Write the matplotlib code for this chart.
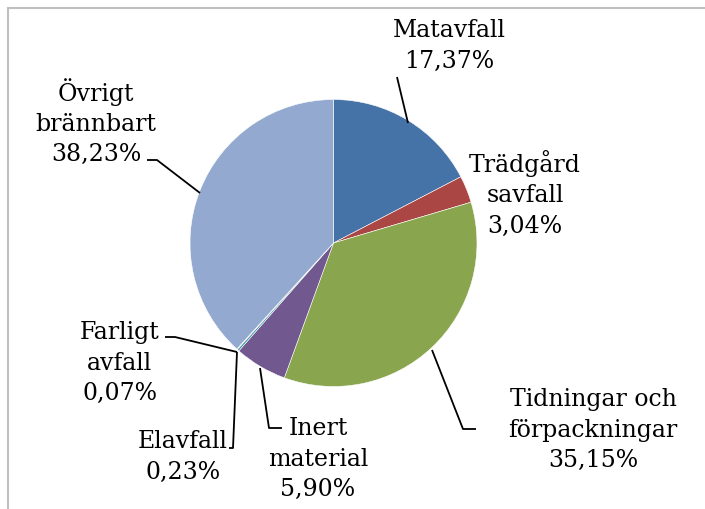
import matplotlib.pyplot as plt
from matplotlib.lines import Line2D

plt.rcParams["font.family"] = ["DejaVu Serif"]

categories = ["Matavfall", "Trädgård\nsavfall", "Tidningar och\nförpackningar",
              "Inert\nmaterial", "Elavfall", "Farligt\navfall", "Övrigt\nbrännbart"]
shares = [17.37, 3.04, 35.15, 5.90, 0.23, 0.07, 38.23]
colors = ["#4572A7", "#AA4643", "#89A54E", "#71588F", "#4198AF", "#DB843D", "#93A9CF"]

W, H = 705, 509
# label block centres (pixels, y from top)
label_pos = [(449, 46), (525, 194), (593, 430), (318, 459), (183, 457), (120, 363), (96, 122)]
# leader lines (pixels, y from top)
leaders = [
    [(397, 77), (408, 123)],
    None,
    [(432, 350), (463, 429), (476, 429)],
    [(260, 368), (269, 428), (282, 428)],
    [(237, 352), (233, 448), (229, 448)],
    [(165, 337), (175, 337), (237, 352)],
    [(147, 160), (157, 160), (200, 193)],
]

fig = plt.figure(figsize=(W / 100, H / 100), dpi=100)
ax = fig.add_axes([0, 0, 1, 1])


def fy(y):
    return H - y


ax.pie(shares, colors=colors, startangle=90, counterclock=False,
       center=(333.5, fy(243)), radius=143.5, frame=True,
       wedgeprops=dict(linewidth=0.4, edgecolor="white"))
ax.set_xlim(0, W)
ax.set_ylim(0, H)
ax.set_aspect("auto")
ax.axis("off")

for name, val, (x, y), pts in zip(categories, shares, label_pos, leaders):
    txt = f"{name}\n{val:.2f}%".replace(".", ",")
    ax.text(x, fy(y), txt, ha="center", va="center", fontsize=17,
            linespacing=1.4, color="black")
    if pts:
        ax.plot([p[0] for p in pts], [fy(p[1]) for p in pts],
                color="black", lw=1.3, solid_capstyle="butt")

# chart border (top and left visible)
fig.add_artist(Line2D([8 / W, 1], [1 - 8 / H, 1 - 8 / H], color="#BFBFBF", lw=1.5))
fig.add_artist(Line2D([8 / W, 8 / W], [0, 1 - 8 / H], color="#BFBFBF", lw=1.5))

fig.savefig("out.png", dpi=100)
